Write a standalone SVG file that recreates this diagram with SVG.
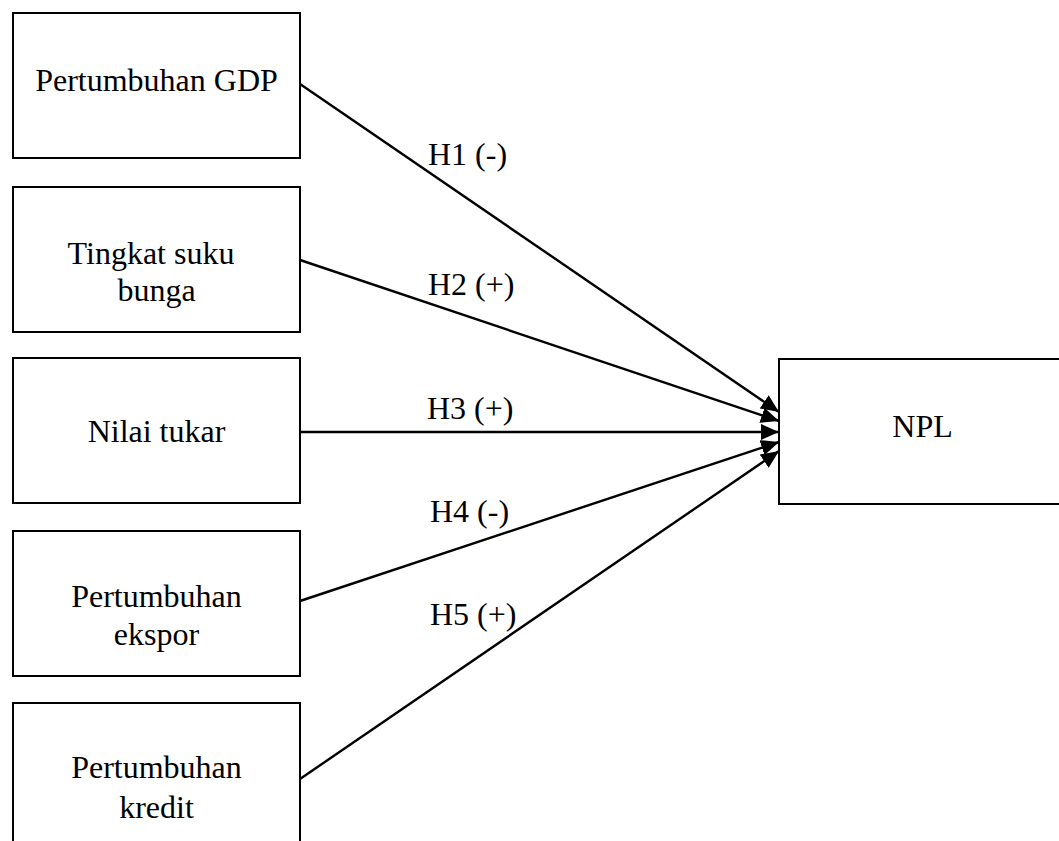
<svg xmlns="http://www.w3.org/2000/svg" width="1059" height="841" viewBox="0 0 1059 841">
<style>
.box{fill:#fff;stroke:#000;stroke-width:2}
.t{font-family:"Liberation Serif","Times New Roman",serif;font-size:32px;fill:#000;text-anchor:middle}
.l{font-family:"Liberation Serif","Times New Roman",serif;font-size:32px;fill:#000}
.c{stroke:#000;stroke-width:2.4;fill:none;marker-end:url(#ah)}
</style>
<defs>
<marker id="ah" markerUnits="userSpaceOnUse" markerWidth="18" markerHeight="16" refX="18" refY="8" orient="auto">
<path d="M0,0 L18,8 L0,16 Z" fill="#000"/>
</marker>
</defs>
<rect width="1059" height="841" fill="#fff"/>
<g id="n1"><rect class="box" x="13" y="13" width="287" height="145"/><text class="t" x="156.5" y="91">Pertumbuhan GDP</text></g>
<g id="n2"><rect class="box" x="13" y="187" width="287" height="145"/><text class="t" x="151" y="264">Tingkat suku</text><text class="t" x="156.5" y="301">bunga</text></g>
<g id="n3"><rect class="box" x="13" y="358" width="287" height="145"/><text class="t" x="156.5" y="442">Nilai tukar</text></g>
<g id="n4"><rect class="box" x="13" y="531" width="287" height="145"/><text class="t" x="156.5" y="607">Pertumbuhan</text><text class="t" x="156.5" y="645">ekspor</text></g>
<g id="n5"><rect class="box" x="13" y="703" width="287" height="145"/><text class="t" x="156.5" y="778">Pertumbuhan</text><text class="t" x="156.5" y="818">kredit</text></g>
<g id="npl"><rect class="box" x="779" y="359" width="290" height="145"/><text class="t" x="922.5" y="437">NPL</text></g>
<g id="connectors">
<line class="c" x1="300" y1="84" x2="779" y2="412"/>
<line class="c" x1="300" y1="260" x2="779" y2="421"/>
<line class="c" x1="300" y1="432" x2="779" y2="432"/>
<line class="c" x1="300" y1="601" x2="779" y2="442"/>
<line class="c" x1="300" y1="779" x2="779" y2="451"/>
<text class="l" x="428" y="165">H1 (-)</text>
<text class="l" x="428" y="295">H2 (+)</text>
<text class="l" x="427" y="419">H3 (+)</text>
<text class="l" x="430" y="522">H4 (-)</text>
<text class="l" x="430" y="625">H5 (+)</text>
</g>
</svg>
